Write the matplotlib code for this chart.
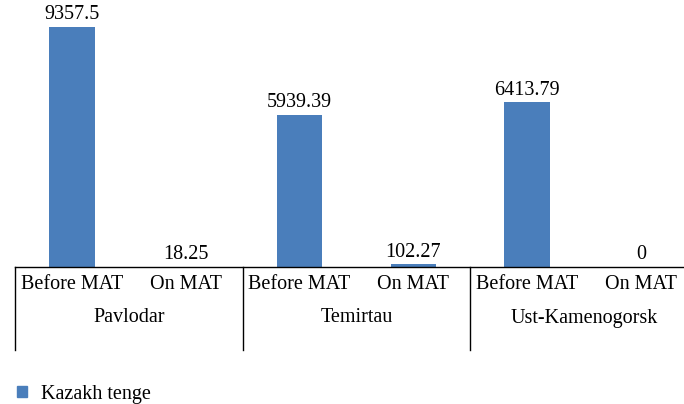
import numpy as np
import matplotlib.pyplot as plt
from matplotlib.patches import Patch
from matplotlib.transforms import blended_transform_factory

cities = ['Pavlodar', 'Temirtau', 'Ust-Kamenogorsk']
periods = ['Before MAT', 'On MAT']
values = [9357.5, 18.25, 5939.39, 102.27, 6413.79, 0]
value_labels = ['9357.5', '18.25', '5939.39', '102.27', '6413.79', '0']
series_name = 'Kazakh tenge'

plt.rcParams['font.family'] = ['Liberation Serif', 'DejaVu Serif']
bar_color = '#4a7ebb'
fs = 14.5

fig = plt.figure(figsize=(6.84, 4.04), dpi=100)
ax = fig.add_axes([15 / 684, 137 / 404, 683 / 684, 247 / 404])

x = np.arange(len(values))
ax.bar(x, values, width=0.40, color=bar_color)
for xi, v, lab in zip(x, values, value_labels):
    ax.annotate(lab, (xi, v), xytext=(0, 2), textcoords='offset points',
                ha='center', va='bottom', fontsize=fs, annotation_clip=False)

ax.set_xlim(-0.5, len(values) - 0.5)
ax.set_ylim(0, 9357.5 * 247 / 240)
ax.set_xticks(x)
ax.set_xticklabels(periods * len(cities), fontsize=fs)
ax.tick_params(axis='x', length=0, pad=6)
ax.set_yticks([])
for s in ['top', 'right', 'left']:
    ax.spines[s].set_visible(False)
ax.spines['bottom'].set_linewidth(1.0)

# group separators and city labels under the axis
trans = blended_transform_factory(ax.transData, ax.transAxes)
for i in range(len(cities) + 1):
    ax.plot([2 * i - 0.5, 2 * i - 0.5], [0, -83 / 247], color='black', lw=1.0,
            transform=trans, clip_on=False)
for i, c in enumerate(cities):
    ax.text(2 * i + 0.5, -51 / 247, c, transform=trans, ha='center', va='center',
            fontsize=fs)

fig.legend(handles=[Patch(color=bar_color, label=series_name)], loc='center left',
           bbox_to_anchor=(17 / 684, 10 / 404), frameon=False, fontsize=fs,
           handlelength=0.5, handleheight=0.5, handletextpad=0.7,
           borderpad=0, borderaxespad=0)

fig.savefig('out.png', dpi=100)
